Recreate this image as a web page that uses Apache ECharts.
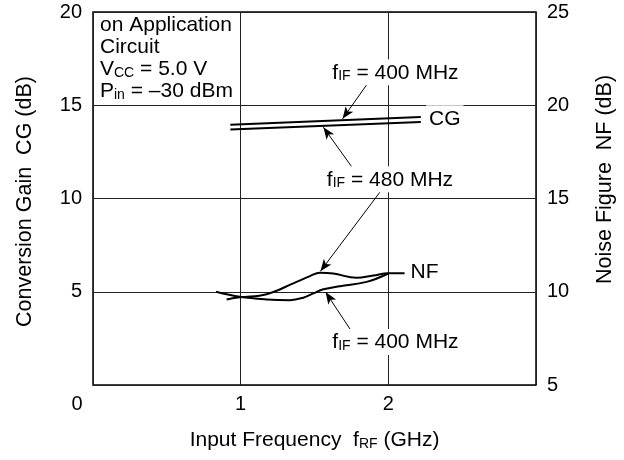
<!DOCTYPE html>
<html>
<head>
<meta charset="utf-8">
<script src="https://cdn.jsdelivr.net/npm/echarts@6/dist/echarts.min.js"></script>
<style>
    html, body { margin: 0; padding: 0; background: #fff; }
    #chart { width: 624px; height: 460px; }
</style>
</head>
<body>
<div id="chart"></div>
<script>
// Conversion gain (left axis, dB)
var cgFreq = [0.93, 2.22];
var cg400 = [13.95, 14.37];
var cg480 = [13.70, 14.10];

// Noise figure (right axis, dB)
var nf480Freq = [0.905, 0.995, 1.176, 1.356, 1.469, 1.537, 1.627, 1.785, 1.898, 2.0, 2.11];
var nf480 = [9.59, 9.70, 9.87, 10.45, 10.84, 11.02, 10.98, 10.75, 10.87, 10.99, 10.99];
var nf400Freq = [0.833, 0.995, 1.176, 1.334, 1.424, 1.492, 1.56, 1.672, 1.853, 2.0];
var nf400 = [10.0, 9.73, 9.59, 9.55, 9.68, 9.91, 10.13, 10.30, 10.53, 10.98];

// Axis ticks
var xTicks = [0, 1, 2];
var cgTicks = [5, 10, 15, 20];
var nfTicks = [5, 10, 15, 20, 25];

var FONT = '"Liberation Sans", Arial, Helvetica, sans-serif';

var rich = {
    n: { fontSize: 21, lineHeight: 22, verticalAlign: 'bottom', color: '#000', fontFamily: FONT },
    s: { fontSize: 14, lineHeight: 18, verticalAlign: 'bottom', color: '#000', fontFamily: FONT },
    z: { fontSize: 20, color: '#000', fontFamily: FONT, padding: [0, 32, 0, 0] }
};

function pairs(xs, ys) {
    return xs.map(function (x, i) { return [x, ys[i]]; });
}

function ifText(mhz) {
    return '{n|f}{s|IF}{n| = ' + mhz + ' MHz}';
}

// text annotation placed in data space
function note(coord, text, pos) {
    return {
        coord: coord,
        symbolSize: 0,
        label: {
            show: true,
            position: pos || 'inside',
            distance: 0,
            formatter: text,
            rich: rich,
            backgroundColor: '#fff',
            padding: [2, 3]
        }
    };
}

// arrow from a label to a curve
function arrows(list) {
    return {
        silent: true,
        symbol: ['none', 'arrow'],
        symbolSize: [7, 12],
        lineStyle: { color: '#000', width: 1, type: 'solid' },
        itemStyle: { color: '#000' },
        label: { show: false },
        data: list.map(function (a) { return [{ coord: a[0] }, { coord: a[1] }]; })
    };
}

var chart = echarts.init(document.getElementById('chart'));

var option = {
    animation: false,
    textStyle: { fontFamily: FONT, color: '#000' },
    grid: {
        left: 93, right: 88, top: 12, bottom: 75,
        show: true,
        borderColor: '#000',
        borderWidth: 1.5,
        outerBoundsMode: 'none'
    },
    xAxis: {
        type: 'value',
        min: 0, max: 3, interval: 1,
        name: '{n|Input Frequency  f}{s|RF}{n| (GHz)}',
        nameLocation: 'middle',
        nameGap: 44,
        nameTextStyle: { rich: rich },
        axisLine: { show: false },
        axisTick: { show: false },
        axisLabel: {
            fontSize: 20, color: '#000', margin: 9,
            rich: rich,
            formatter: function (v) {
                if (xTicks.indexOf(v) < 0) return '';
                return v === 0 ? '{z|0}' : String(v);
            }
        },
        splitLine: { show: true, lineStyle: { color: '#222', width: 1 } }
    },
    yAxis: [{
        type: 'value',
        min: 0, max: 20, interval: 5,
        name: 'Conversion Gain  CG (dB)',
        nameLocation: 'middle',
        nameRotate: 90,
        nameGap: 57,
        nameTextStyle: { fontSize: 21.5, color: '#000', padding: [0, 6, 0, 0] },
        axisLine: { show: false },
        axisTick: { show: false },
        axisLabel: {
            fontSize: 20, color: '#000', margin: 11,
            formatter: function (v) { return cgTicks.indexOf(v) < 0 ? '' : String(v); }
        },
        splitLine: { show: true, lineStyle: { color: '#222', width: 1 } }
    }, {
        type: 'value',
        position: 'right',
        min: 5, max: 25, interval: 5,
        name: 'Noise Figure  NF (dB)',
        nameLocation: 'middle',
        nameRotate: 90,
        nameGap: 58,
        nameTextStyle: { fontSize: 21.5, color: '#000', padding: [0, 0, 0, 38] },
        axisLine: { show: false },
        axisTick: { show: false },
        axisLabel: {
            fontSize: 20, color: '#000', margin: 11,
            formatter: function (v) { return nfTicks.indexOf(v) < 0 ? '' : String(v); }
        },
        splitLine: { show: false }
    }],
    graphic: [{
        type: 'text',
        left: 100,
        top: 15,
        z: 100,
        style: {
            text: '{n|on Application}\n{n|Circuit}\n{n|V}{s|CC}{n| = 5.0 V}\n{n|P}{s|in}{n| = \u201330 dBm}',
            rich: rich,
            fill: '#000'
        }
    }],
    series: [{
        name: 'CG fIF 400',
        type: 'line',
        yAxisIndex: 0,
        data: pairs(cgFreq, cg400),
        showSymbol: false,
        silent: true,
        lineStyle: { color: '#000', width: 2 },
        markPoint: {
            silent: true,
            data: [
                note([2.048, 16.77], ifText(400)),
                note([2.255, 14.30], '{n|CG}', 'right')
            ]
        },
        markLine: arrows([[[1.875, 16.34], [1.69, 14.27]]])
    }, {
        name: 'CG fIF 480',
        type: 'line',
        yAxisIndex: 0,
        data: pairs(cgFreq, cg480),
        showSymbol: false,
        silent: true,
        lineStyle: { color: '#000', width: 2 },
        markPoint: {
            silent: true,
            data: [note([2.011, 11.03], ifText(480))]
        },
        markLine: arrows([[[1.754, 11.68], [1.56, 13.82]]])
    }, {
        name: 'NF fIF 480',
        type: 'line',
        yAxisIndex: 1,
        data: pairs(nf480Freq, nf480),
        smooth: 0.4,
        showSymbol: false,
        silent: true,
        lineStyle: { color: '#000', width: 2 },
        markPoint: {
            silent: true,
            data: [note([2.13, 11.1], '{n|NF}', 'right')]
        },
        markLine: arrows([[[1.943, 15.34], [1.54, 11.1]]])
    }, {
        name: 'NF fIF 400',
        type: 'line',
        yAxisIndex: 1,
        data: pairs(nf400Freq, nf400),
        smooth: 0.4,
        showSymbol: false,
        silent: true,
        lineStyle: { color: '#000', width: 2 },
        markPoint: {
            silent: true,
            data: [note([2.048, 7.30], ifText(400))]
        },
        markLine: arrows([[[1.754, 7.84], [1.575, 9.98]]])
    }]
};

chart.setOption(option);
</script>
</body>
</html>
